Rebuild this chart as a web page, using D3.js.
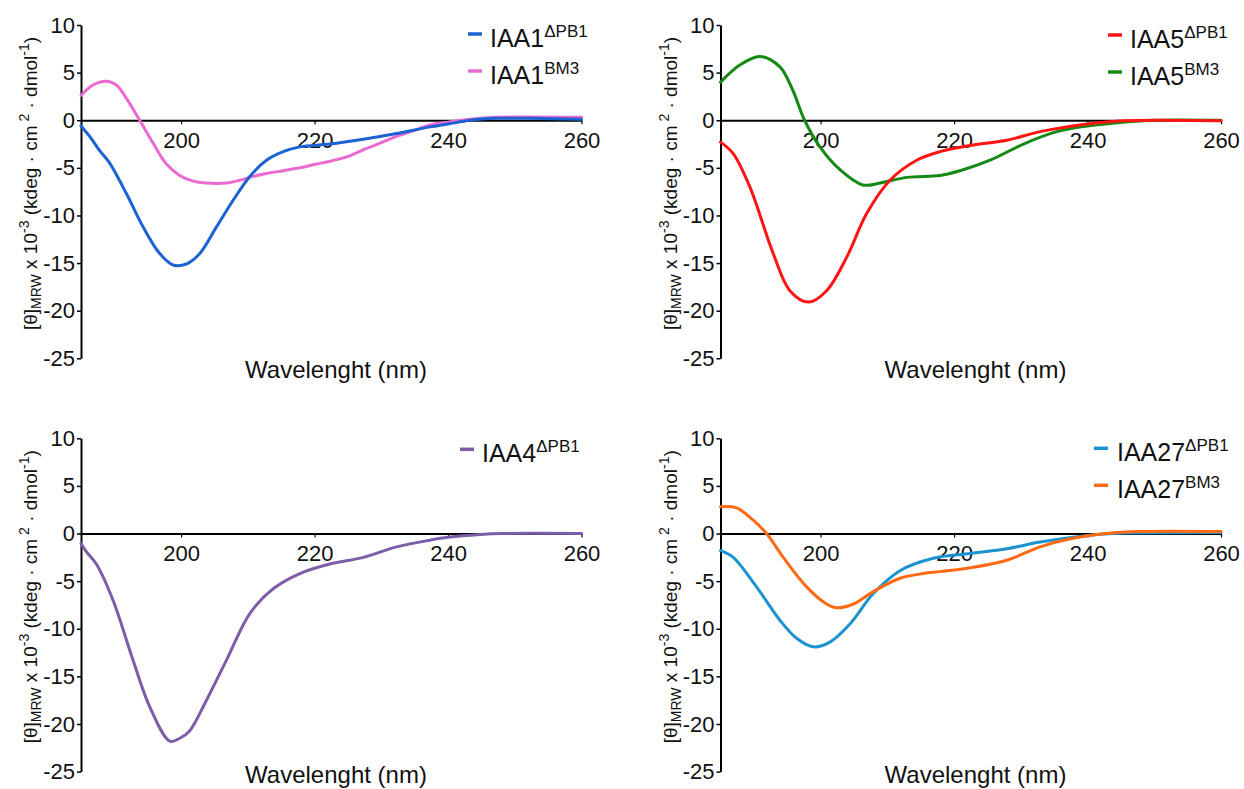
<!DOCTYPE html>
<html>
<head>
<meta charset="utf-8">
<script src="https://cdn.jsdelivr.net/npm/d3@7"></script>
<style>
  html, body { margin: 0; padding: 0; background: #fff; }
  svg { display: block; font-family: "Liberation Sans", Arial, sans-serif; }
</style>
</head>
<body>
<svg id="chart" width="1244" height="789"></svg>
<script>
// ---------- DATA (wavelength nm, [θ]MRW x 10^-3) ----------
const xTicks = [200, 220, 240, 260];
const yTicks = [10, 5, 0, -5, -10, -15, -20, -25];
const xDomain = [185, 260];
const yDomain = [-25, 10];

const iaa1DPB1 = [[185,-0.6],[186.3,-1.7],[187.8,-3.2],[189.3,-4.5],[191.8,-7.7],[194.3,-11.2],[196.8,-14.0],[198.8,-15.2],[200.8,-15.1],[202.8,-14.0],[205.3,-11.2],[207.8,-8.4],[210.3,-5.9],[212.8,-4.2],[215.3,-3.3],[217.8,-2.8],[222.3,-2.5],[227.3,-2.0],[232.3,-1.4],[237.3,-0.7],[240,-0.4],[243.3,0.0],[247.3,0.2],[252.3,0.2],[260,0.1]];
const iaa1BM3 = [[185,2.6],[186.8,3.7],[188.8,4.1],[190.3,3.7],[191.8,2.3],[193.8,0.0],[195.8,-2.4],[197.8,-4.6],[199.8,-5.8],[201.8,-6.4],[203.8,-6.6],[206.8,-6.6],[208.8,-6.3],[210.8,-5.9],[212.8,-5.6],[215.3,-5.3],[217.8,-5.0],[220.3,-4.6],[222.3,-4.3],[224.8,-3.85],[227.3,-3.1],[229.8,-2.4],[232.3,-1.7],[234.8,-1.1],[237.3,-0.5],[240,-0.2],[243.3,0.1],[247.3,0.3],[260,0.3]];

const iaa5DPB1 = [[185,-2.3],[186.9,-3.5],[189.4,-7.0],[192.9,-14.0],[195.4,-17.9],[198.2,-19.1],[200.9,-17.9],[203.9,-14.4],[206.9,-9.8],[210.4,-6.3],[214.4,-4.2],[217.9,-3.3],[222.9,-2.6],[227.9,-2.1],[232.9,-1.2],[240,-0.4],[245.3,-0.05],[260,-0.05]];
const iaa5BM3 = [[185,4.0],[187.9,5.8],[190.9,6.7],[193.9,5.6],[195.8,3.2],[197.6,0.0],[199.9,-2.8],[202.9,-5.2],[206.3,-6.8],[208.9,-6.6],[212.9,-6.0],[217.9,-5.8],[220.9,-5.3],[225.4,-4.2],[230.4,-2.5],[235.4,-1.2],[240,-0.6],[245.3,-0.2],[250,0.0],[260,0.0]];

const iaa4DPB1 = [[185,-1.05],[185.8,-1.9],[187.3,-3.2],[189.8,-7.0],[192.8,-13.3],[195.3,-18.2],[198.3,-21.8],[199.8,-21.5],[201.3,-20.7],[203.8,-17.5],[206.8,-13.3],[210.3,-8.4],[213.8,-5.8],[217.8,-4.2],[222.3,-3.2],[227.3,-2.5],[232.3,-1.4],[237.3,-0.7],[240,-0.4],[244.8,-0.1],[248.2,0.0],[260,0.0]];

const iaa27DPB1 = [[185,-1.8],[186.9,-2.5],[190.4,-5.6],[193.9,-9.1],[196.4,-11.0],[198.9,-11.9],[201.4,-11.4],[204.4,-9.5],[207.9,-6.3],[211.9,-3.9],[216.9,-2.6],[222.4,-2.1],[227.9,-1.6],[232.9,-0.9],[240,-0.2],[243.8,0.0],[260,0.1]];
const iaa27BM3 = [[185,2.8],[187.4,2.7],[189.9,1.4],[191.9,0.0],[194.4,-2.5],[197.9,-5.6],[200.9,-7.4],[202.4,-7.8],[204.9,-7.4],[207.9,-6.1],[211.9,-4.7],[215.4,-4.2],[217.9,-4.0],[222.4,-3.6],[227.9,-2.8],[232.9,-1.4],[237.8,-0.5],[242.8,0.0],[247.8,0.2],[260,0.2]];

const xTitle = "Wavelenght (nm)";

// ---------- LAYOUT ----------
const svg = d3.select("#chart");
const PW = 500.5, PH = 333.3;
const FONT = '"Liberation Sans", Arial, sans-serif';

const panels = [
  { ox: 81, oy: 25, titleDy: 353, legX: 387, legTX: 409, legY: 9, series: [
      { name: "IAA1", sup: "\u0394PB1", data: iaa1DPB1, color: "#1c62d2" },
      { name: "IAA1", sup: "BM3", data: iaa1BM3, color: "#ea6ad2" } ],
    order: [1, 0] },
  { ox: 720.5, oy: 25, titleDy: 353, legX: 387.5, legTX: 409.5, legY: 10, series: [
      { name: "IAA5", sup: "\u0394PB1", data: iaa5DPB1, color: "#ff1414" },
      { name: "IAA5", sup: "BM3", data: iaa5BM3, color: "#148a14" } ],
    order: [1, 0] },
  { ox: 81, oy: 438.3, titleDy: 345, legX: 379, legTX: 401, legY: 11, series: [
      { name: "IAA4", sup: "\u0394PB1", data: iaa4DPB1, color: "#7d5ca8" } ],
    order: [0] },
  { ox: 720.5, oy: 438.3, titleDy: 345, legX: 373.5, legTX: 396.5, legY: 10, series: [
      { name: "IAA27", sup: "\u0394PB1", data: iaa27DPB1, color: "#1b93d1" },
      { name: "IAA27", sup: "BM3", data: iaa27BM3, color: "#ff6a14" } ],
    order: [0, 1] }
];

const fmt = v => String(v);

panels.forEach(p => {
  const g = svg.append("g").attr("transform", `translate(${p.ox},${p.oy})`);
  const x = d3.scaleLinear().domain(xDomain).range([0, PW]);
  const y = d3.scaleLinear().domain(yDomain).range([PH, 0]);

  // y axis
  const ya = g.append("g").call(
    d3.axisLeft(y).tickValues(yTicks).tickFormat(fmt).tickSize(4).tickSizeOuter(0).tickPadding(2)
  );
  ya.select(".domain").attr("stroke", "#000").attr("stroke-width", 2);
  ya.selectAll(".tick line").attr("stroke", "#000").attr("stroke-width", 1.5);
  ya.selectAll(".tick text").attr("font-size", 22).attr("font-family", FONT).attr("fill", "#111");

  // x axis at y=0
  const xa = g.append("g").attr("transform", `translate(0,${y(0)})`).call(
    d3.axisBottom(x).tickValues(xTicks).tickFormat(fmt).tickSize(4).tickSizeOuter(0).tickPadding(8)
  );
  xa.select(".domain").attr("stroke", "#000").attr("stroke-width", 2);
  xa.selectAll(".tick line").attr("stroke", "#000").attr("stroke-width", 1.2);
  xa.selectAll(".tick text").attr("font-size", 22).attr("font-family", FONT).attr("fill", "#111");

  // lines
  const line = d3.line().x(d => x(d[0])).y(d => y(d[1])).curve(d3.curveCatmullRom.alpha(0.5));
  p.order.forEach(i => {
    const s = p.series[i];
    g.append("path").datum(s.data)
      .attr("d", line).attr("fill", "none")
      .attr("stroke", s.color).attr("stroke-width", 3)
      .attr("stroke-linejoin", "round").attr("stroke-linecap", "round");
  });

  // legend
  p.series.forEach((s, i) => {
    const ly = p.legY + i * 37;
    g.append("line").attr("x1", p.legX).attr("x2", p.legX + 14)
      .attr("y1", ly).attr("y2", ly)
      .attr("stroke", s.color).attr("stroke-width", 3.5);
    const t = g.append("text").attr("x", p.legTX).attr("y", ly + 12.5)
      .attr("font-size", 25).attr("font-family", FONT).attr("fill", "#111");
    t.append("tspan").text(s.name);
    t.append("tspan").attr("dy", -10).attr("font-size", 17).text(s.sup);
  });

  // x title
  g.append("text").attr("x", 255).attr("y", p.titleDy)
    .attr("text-anchor", "middle").attr("font-size", 24).attr("font-family", FONT)
    .attr("fill", "#111").text(xTitle);

  // y title
  const yt = g.append("text")
    .attr("transform", `translate(-44,${158.5}) rotate(-90)`)
    .attr("text-anchor", "middle").attr("font-size", 19).attr("font-family", FONT)
    .attr("fill", "#111");
  yt.append("tspan").text("[\u03B8]");
  yt.append("tspan").attr("dy", 4).attr("font-size", 14).text("MRW");
  yt.append("tspan").attr("dy", -4).text(" x 10");
  yt.append("tspan").attr("dy", -8).attr("font-size", 14).text("-3");
  yt.append("tspan").attr("dy", 8).text(" (kdeg \u00B7 cm");
  yt.append("tspan").attr("dy", -8).attr("font-size", 14).text(" 2");
  yt.append("tspan").attr("dy", 8).text(" \u00B7 dmol");
  yt.append("tspan").attr("dy", -8).attr("font-size", 14).text("-1");
  yt.append("tspan").attr("dy", 8).text(")");
});
</script>
</body>
</html>
